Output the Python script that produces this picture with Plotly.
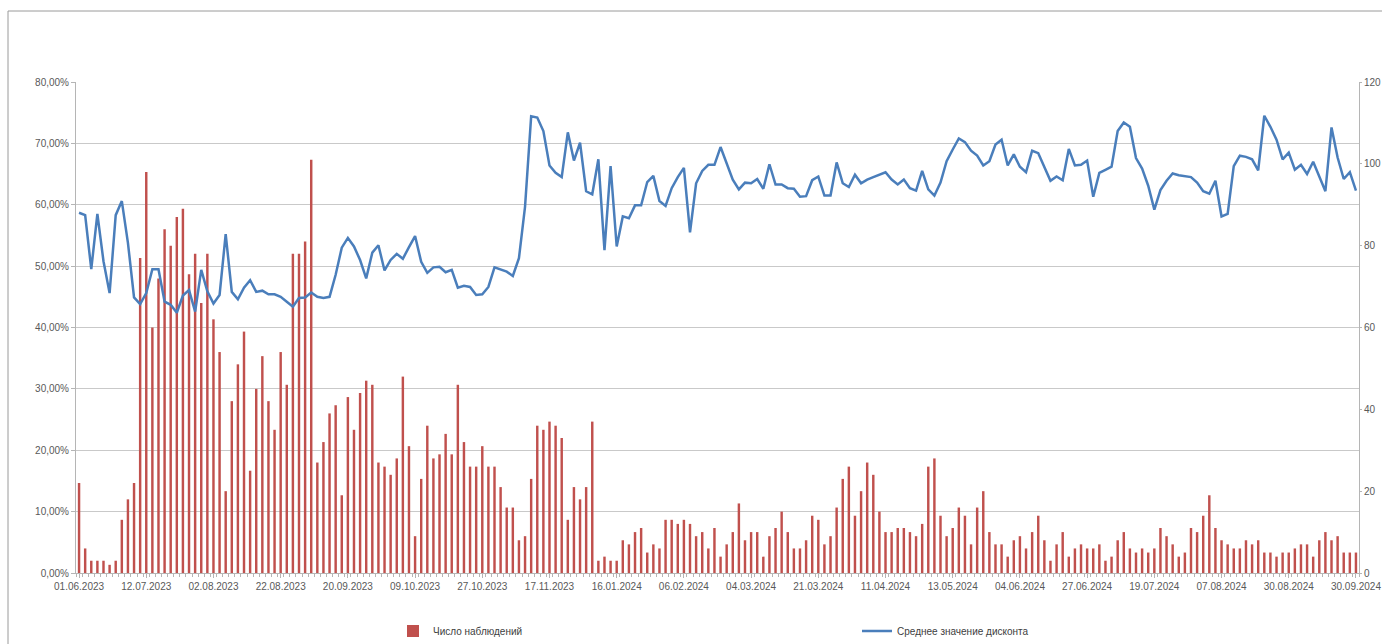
import plotly.graph_objects as go

# ---- data ----
tick_labels = ["01.06.2023", "12.07.2023", "02.08.2023", "22.08.2023", "20.09.2023",
               "09.10.2023", "27.10.2023", "17.11.2023", "16.01.2024", "06.02.2024",
               "04.03.2024", "21.03.2024", "11.04.2024", "13.05.2024", "04.06.2024",
               "27.06.2024", "19.07.2024", "07.08.2024", "30.08.2024", "30.09.2024"]
label_step = 11  # one label every 11 categories

observations = [
    22, 6, 3, 3, 3, 2, 3, 13, 18, 22,
    77, 98, 60, 72, 84, 80, 87, 89, 73, 78,
    66, 78, 62, 54, 20, 42, 51, 59, 25, 45,
    53, 42, 35, 54, 46, 78, 78, 81, 101, 27,
    32, 39, 41, 19, 43, 35, 44, 47, 46, 27,
    26, 24, 28, 48, 31, 9, 23, 36, 28, 29,
    34, 29, 46, 32, 26, 26, 31, 26, 26, 21,
    16, 16, 8, 9, 23, 36, 35, 37, 36, 33,
    13, 21, 18, 21, 37, 3, 4, 3, 3, 8,
    7, 10, 11, 5, 7, 6, 13, 13, 12, 13,
    12, 9, 10, 6, 11, 4, 7, 10, 17, 8,
    10, 10, 4, 9, 11, 15, 10, 6, 6, 8,
    14, 13, 7, 9, 16, 23, 26, 14, 20, 27,
    24, 15, 10, 10, 11, 11, 10, 9, 12, 26,
    28, 14, 9, 11, 16, 14, 7, 16, 20, 10,
    7, 7, 4, 8, 9, 6, 10, 14, 8, 3,
    7, 10, 4, 6, 7, 6, 6, 7, 3, 4,
    8, 10, 6, 5, 6, 5, 6, 11, 9, 7,
    4, 5, 11, 10, 14, 19, 11, 8, 7, 6,
    6, 8, 7, 8, 5, 5, 4, 5, 5, 6,
    7, 7, 4, 8, 10, 8, 9, 5, 5, 5,
]

avg_discount_pct = [
    58.7, 58.3, 49.5, 58.5, 50.8, 45.6, 58.3, 60.6, 53.8, 44.9,
    43.8, 45.6, 49.5, 49.5, 44.2, 43.7, 42.4, 45.2, 46.1, 42.6,
    49.4, 45.9, 43.9, 45.3, 55.2, 45.8, 44.6, 46.5, 47.7, 45.8,
    46.0, 45.4, 45.4, 45.0, 44.2, 43.4, 44.8, 44.9, 45.7, 45.0,
    44.8, 45.0, 48.6, 53.0, 54.6, 53.2, 51.0, 48.0, 52.2, 53.4,
    49.3, 51.0, 52.0, 51.2, 53.1, 54.9, 50.7, 48.9, 49.8, 49.9,
    49.0, 49.4, 46.5, 46.8, 46.6, 45.3, 45.4, 46.6, 49.8, 49.5,
    49.1, 48.4, 51.3, 59.7, 74.4, 74.2, 72.0, 66.4, 65.2, 64.5,
    71.8, 67.2, 70.1, 62.2, 61.7, 67.4, 52.6, 66.3, 53.2, 58.1,
    57.8, 59.9, 59.9, 63.7, 64.7, 60.6, 59.8, 62.7, 64.5, 66.0,
    55.5, 63.5, 65.5, 66.5, 66.5, 69.4, 66.8, 64.1, 62.5, 63.6,
    63.5, 64.2, 62.6, 66.6, 63.3, 63.3, 62.7, 62.6, 61.3, 61.4,
    64.0, 64.6, 61.5, 61.5, 66.9, 63.5, 62.9, 64.9, 63.5, 64.1,
    64.5, 64.9, 65.3, 64.1, 63.3, 64.1, 62.7, 62.3, 65.5, 62.5,
    61.5, 63.6, 67.1, 69.0, 70.8, 70.2, 68.8, 68.0, 66.4, 67.1,
    69.8, 70.6, 66.4, 68.2, 66.2, 65.3, 68.8, 68.4, 66.2, 63.9,
    64.6, 64.0, 69.1, 66.4, 66.5, 67.2, 61.3, 65.2, 65.7, 66.2,
    72.0, 73.4, 72.7, 67.6, 65.9, 63.1, 59.2, 62.4, 63.9, 65.1,
    64.8, 64.6, 64.5, 63.6, 62.2, 61.8, 63.9, 58.1, 58.5, 66.3,
    68.0, 67.8, 67.4, 65.6, 74.5, 72.7, 70.6, 67.4, 68.5, 65.7,
    66.5, 65.0, 67.0, 64.6, 62.2, 72.6, 67.7, 64.2, 65.3, 62.3,
]

bar_name = "Число наблюдений"
line_name = "Среднее значение дисконта"

# ---- figure ----
n = len(observations)
x = list(range(n))
tickvals = [i * label_step for i in range(len(tick_labels))]

FONT = "Liberation Sans"
TXT = "#595959"
GRID = "#c9c9c9"
AXIS = "#b5b5b5"

W, H = 1382, 644
L, R, T, B = 76, 1359, 82, 573


def px(xp):
    return (xp - L) / (R - L)


def py(yp):
    return (B - yp) / (B - T)


fig = go.Figure()
fig.add_trace(go.Bar(
    x=x, y=observations, name=bar_name, yaxis="y",
    marker=dict(color="#c0504d", line=dict(width=0)),
    width=0.4, legend="legend",
))
fig.add_trace(go.Scatter(
    x=x, y=avg_discount_pct, name=line_name, yaxis="y2", mode="lines",
    line=dict(color="#4a7ebb", width=2.5), legend="legend2",
))

fig.update_layout(
    width=W, height=H,
    margin=dict(l=L, r=W - R, t=T, b=H - B, autoexpand=False),
    paper_bgcolor="white", plot_bgcolor="white",
    separators=", ",
    font=dict(family=FONT, size=10, color=TXT),
    xaxis=dict(
        range=[-0.5, n - 0.5], tickmode="array", tickvals=tickvals, ticktext=tick_labels,
        showgrid=False, showline=True, linecolor=AXIS, linewidth=1,
        ticks="outside", ticklen=4, tickcolor=AXIS, automargin=False,
        minor=dict(ticks="outside", tickmode="linear", tick0=0.5, dtick=1,
                   ticklen=3, tickcolor=AXIS, showgrid=False),
        tickfont=dict(size=10, color=TXT), zeroline=False,
    ),
    yaxis=dict(
        side="right", range=[0, 120], dtick=20, showgrid=False, automargin=False,
        showline=True, linecolor=AXIS, ticks="outside", ticklen=2, tickcolor=AXIS,
        tickfont=dict(size=10, color=TXT), zeroline=False,
    ),
    yaxis2=dict(
        side="left", overlaying="y", range=[0, 80], dtick=10,
        ticksuffix="%", tickformat=".2f", automargin=False,
        showgrid=True, gridcolor=GRID, gridwidth=1,
        showline=True, linecolor=AXIS, ticks="outside", ticklen=4, tickcolor=AXIS,
        tickfont=dict(size=10, color=TXT), zeroline=False,
    ),
    legend=dict(x=px(393), y=py(631), xanchor="left", yanchor="middle",
                orientation="h", font=dict(size=10, color="#404040"),
                bgcolor="rgba(0,0,0,0)"),
    legend2=dict(x=px(857), y=py(631), xanchor="left", yanchor="middle",
                 orientation="h", font=dict(size=10, color="#404040"),
                 bgcolor="rgba(0,0,0,0)"),
    showlegend=True,
)

# chart-area frame (top and left edges visible in the reference)
fig.add_shape(type="line", xref="paper", yref="paper",
              x0=px(8), x1=px(1400), y0=py(11), y1=py(11),
              line=dict(color="#9a9a9a", width=1))
fig.add_shape(type="line", xref="paper", yref="paper",
              x0=px(8), x1=px(8), y0=py(11), y1=py(660),
              line=dict(color="#9a9a9a", width=1))

# place the figure at the page origin (remove the default body margin)
fig.write_html(
    "out.html",
    config={"displayModeBar": False},
    post_script="document.body.style.margin='0';document.body.style.overflow='hidden';",
)
